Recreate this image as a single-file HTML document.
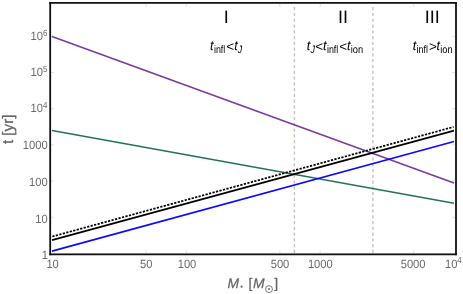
<!DOCTYPE html>
<html>
<head>
<meta charset="utf-8">
<style>
html,body{margin:0;padding:0;background:#fff;}
body{width:463px;height:294px;overflow:hidden;}
svg{display:block;position:absolute;left:0;top:0;will-change:transform;}
text{font-family:"Liberation Sans",sans-serif;text-rendering:geometricPrecision;}
.tk{font-size:12px;fill:#6a6a6a;}
.sup{font-size:8.8px;fill:#6a6a6a;}
.lab{fill:#666;}
.reg{font-size:17px;fill:#000;}
.eq{font-size:13px;fill:#000;}
.sub{font-size:9px;fill:#000;}
</style>
</head>
<body>
<svg width="463" height="294" viewBox="0 0 463 294">
<rect x="0" y="0" width="463" height="294" fill="#fff"/>
<line x1="294.4" y1="7.1" x2="294.4" y2="253" stroke="#c4c4c4" stroke-width="1.4" stroke-dasharray="3.2 2.58"/>
<line x1="372.9" y1="7.1" x2="372.9" y2="253" stroke="#c4c4c4" stroke-width="1.4" stroke-dasharray="3.2 2.58"/>
<g stroke="#e2e2e2" stroke-width="1"><line x1="51" y1="36.3" x2="54" y2="36.3"/><line x1="455" y1="36.3" x2="452" y2="36.3"/><line x1="51" y1="72.5" x2="54" y2="72.5"/><line x1="455" y1="72.5" x2="452" y2="72.5"/><line x1="51" y1="108.7" x2="54" y2="108.7"/><line x1="455" y1="108.7" x2="452" y2="108.7"/><line x1="51" y1="144.9" x2="54" y2="144.9"/><line x1="455" y1="144.9" x2="452" y2="144.9"/><line x1="51" y1="181.1" x2="54" y2="181.1"/><line x1="455" y1="181.1" x2="452" y2="181.1"/><line x1="51" y1="217.3" x2="54" y2="217.3"/><line x1="455" y1="217.3" x2="452" y2="217.3"/><line x1="146.1" y1="253" x2="146.1" y2="250"/><line x1="146.1" y1="4" x2="146.1" y2="7"/><line x1="186.3" y1="253" x2="186.3" y2="250"/><line x1="186.3" y1="4" x2="186.3" y2="7"/><line x1="279.9" y1="253" x2="279.9" y2="250"/><line x1="279.9" y1="4" x2="279.9" y2="7"/><line x1="320.2" y1="253" x2="320.2" y2="250"/><line x1="320.2" y1="4" x2="320.2" y2="7"/><line x1="413.7" y1="253" x2="413.7" y2="250"/><line x1="413.7" y1="4" x2="413.7" y2="7"/></g>
<g fill="none" stroke-linecap="butt">
<line x1="52" y1="36.5" x2="454" y2="182.9" stroke="#7c3a9e" stroke-width="1.6"/>
<line x1="52" y1="130.5" x2="454" y2="203.3" stroke="#247361" stroke-width="1.6"/>
<line x1="52" y1="251.1" x2="454" y2="141.5" stroke="#0a0aff" stroke-width="1.65"/>
<line x1="52" y1="240.1" x2="454" y2="130.7" stroke="#000" stroke-width="1.75"/>
<line x1="52.3" y1="236.52" x2="453.6" y2="126.9" stroke="#000" stroke-width="1.75" stroke-dasharray="2.25 1.36"/>
</g>
<g fill="#111"><rect x="49.3" y="2" width="1.8" height="253.2"/><rect x="455.1" y="2" width="1.8" height="253.2"/><rect x="49.2" y="2" width="407.7" height="1.75"/><rect x="49.3" y="253.45" width="407.6" height="1.8"/></g>
<text class="tk" transform="translate(43.0,39.9) scale(0.93,1)" text-anchor="end">10</text>
<text class="sup" transform="translate(43.0,35.699999999999996) scale(0.9,1)" text-anchor="start">6</text>
<text class="tk" transform="translate(43.0,76.2) scale(0.93,1)" text-anchor="end">10</text>
<text class="sup" transform="translate(43.0,72.0) scale(0.9,1)" text-anchor="start">5</text>
<text class="tk" transform="translate(43.0,112.2) scale(0.93,1)" text-anchor="end">10</text>
<text class="sup" transform="translate(43.0,108.0) scale(0.9,1)" text-anchor="start">4</text>
<text class="tk" transform="translate(47.6,149.4) scale(0.93,1)" text-anchor="end">1000</text>
<text class="tk" transform="translate(47.6,186.1) scale(0.93,1)" text-anchor="end">100</text>
<text class="tk" transform="translate(47.6,222.8) scale(0.93,1)" text-anchor="end">10</text>
<text class="tk" transform="translate(48.0,258.5) scale(0.93,1)" text-anchor="end">1</text>
<text class="tk" transform="translate(52.6,268.0) scale(0.93,1)" text-anchor="middle">10</text>
<text class="tk" transform="translate(146.2,268.0) scale(0.93,1)" text-anchor="middle">50</text>
<text class="tk" transform="translate(187,268.0) scale(0.93,1)" text-anchor="middle">100</text>
<text class="tk" transform="translate(280,268.0) scale(0.93,1)" text-anchor="middle">500</text>
<text class="tk" transform="translate(320.3,268.0) scale(0.93,1)" text-anchor="middle">1000</text>
<text class="tk" transform="translate(413.1,268.0) scale(0.93,1)" text-anchor="middle">5000</text>
<text class="tk" transform="translate(445.1,268.0) scale(0.93,1)" text-anchor="start">10</text>
<text class="sup" transform="translate(457.3,263.4) scale(0.88,1)" text-anchor="start">4</text>
<text class="lab" font-size="15.2" transform="translate(12.6,129.3) rotate(-90)" text-anchor="middle" stroke="#666" stroke-width="0.3">t [yr]</text>
<g class="lab" font-size="13.9" stroke="#666" stroke-width="0.25">
<text x="227.5" y="287.8" font-style="italic">M</text>
<text x="248.5" y="287.8">[</text>
<text x="252.9" y="287.8" font-style="italic">M</text>
<text x="274.2" y="287.8">]</text></g>
<circle cx="241.6" cy="286.7" r="1.15" fill="#707070"/>
<circle cx="269.0" cy="289.1" r="3.45" fill="none" stroke="#666" stroke-width="0.9"/><circle cx="269.0" cy="289.1" r="1.0" fill="#666"/>
<text transform="translate(223.79,23.4) scale(1.0,1)" font-size="18" fill="#000">I</text>
<text transform="translate(337.99,23.4) scale(1.0,1)" font-size="18" fill="#000">II</text>
<text transform="translate(424.79,23.4) scale(1.0,1)" font-size="18" fill="#000">III</text>
<text transform="translate(209.93,50.3) scale(0.92,1)" font-size="13.7" font-style="italic" fill="#000">t</text>
<text transform="translate(213.91,52.8) scale(0.82,1)" font-size="10.8" fill="#000">infl</text>
<text transform="translate(226.23,51.3) scale(1.0,1)" font-size="13.5" fill="#000">&lt;</text>
<text transform="translate(234.23,50.3) scale(0.92,1)" font-size="13.7" font-style="italic" fill="#000">t</text>
<text transform="translate(237.82,52.8) scale(0.82,1)" font-size="10.8" font-style="italic" fill="#000">J</text>
<text transform="translate(306.63,50.3) scale(0.92,1)" font-size="13.7" font-style="italic" fill="#000">t</text>
<text transform="translate(310.42,52.8) scale(0.82,1)" font-size="10.8" font-style="italic" fill="#000">J</text>
<text transform="translate(315.33,51.3) scale(1.0,1)" font-size="13.5" fill="#000">&lt;</text>
<text transform="translate(322.93,50.3) scale(0.92,1)" font-size="13.7" font-style="italic" fill="#000">t</text>
<text transform="translate(326.91,52.8) scale(0.82,1)" font-size="10.8" fill="#000">infl</text>
<text transform="translate(339.13,51.3) scale(1.0,1)" font-size="13.5" fill="#000">&lt;</text>
<text transform="translate(346.93,50.3) scale(0.92,1)" font-size="13.7" font-style="italic" fill="#000">t</text>
<text transform="translate(350.68,52.8) scale(0.86,1)" font-size="10.8" fill="#000">ion</text>
<text transform="translate(412.63,50.3) scale(0.92,1)" font-size="13.7" font-style="italic" fill="#000">t</text>
<text transform="translate(416.61,52.8) scale(0.82,1)" font-size="10.8" fill="#000">infl</text>
<text transform="translate(428.93,51.3) scale(1.0,1)" font-size="13.5" fill="#000">&gt;</text>
<text transform="translate(436.53,50.3) scale(0.92,1)" font-size="13.7" font-style="italic" fill="#000">t</text>
<text transform="translate(440.28,52.8) scale(0.86,1)" font-size="10.8" fill="#000">ion</text>
</svg>
</body>
</html>
